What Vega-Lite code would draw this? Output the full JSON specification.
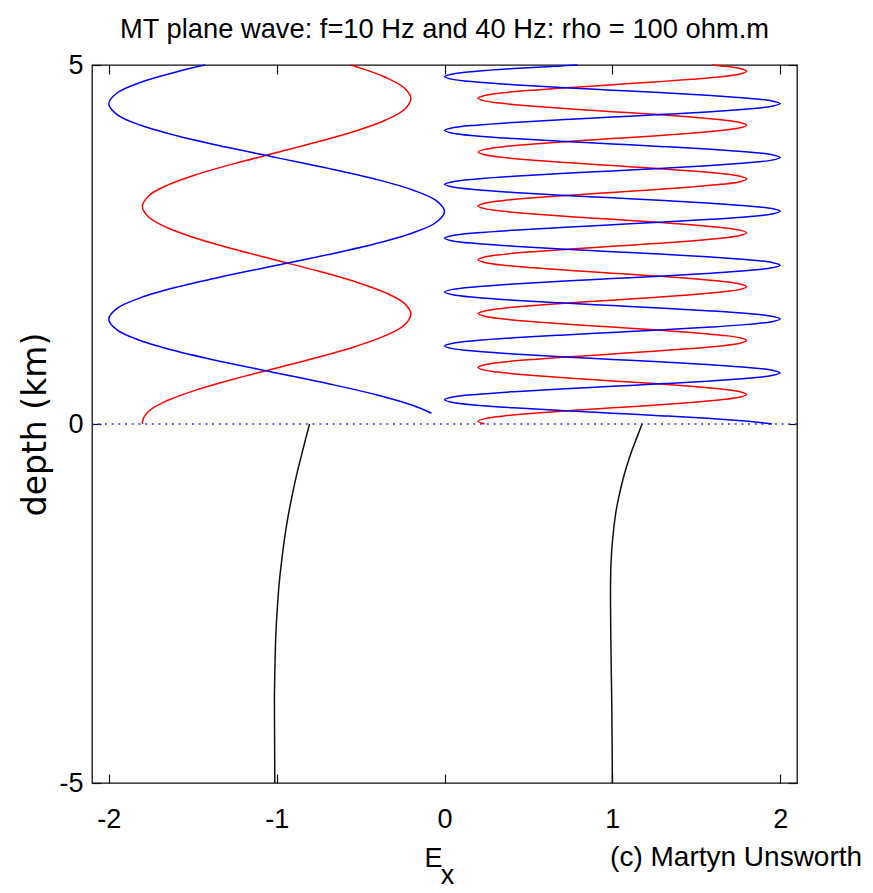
{
"$schema": "https://vega.github.io/schema/vega-lite/v6.json",
"width": 705, "height": 718,
"autosize": "none",
"padding": {"left": 92, "top": 65, "right": 76, "bottom": 110},
"background": "white",
"config": {"view": {"stroke": "#111111", "strokeWidth": 1.3}, "font": "Liberation Sans"},
"title": {"text": "MT plane wave: f=10 Hz and 40 Hz: rho = 100 ohm.m", "font": "Liberation Sans", "fontSize": 27.3, "fontWeight": "normal", "color": "black", "anchor": "middle", "baseline": "alphabetic", "offset": -14},
"datasets": {
"a": [
{"s":"red10","z":0,"e":-1.798},{"s":"red10","z":0.03,"e":-1.8},{"s":"red10","z":0.18,"e":-1.761},{"s":"red10","z":0.33,"e":-1.647},{"s":"red10","z":0.48,"e":-1.47},{"s":"red10","z":0.63,"e":-1.247},{"s":"red10","z":0.78,"e":-1},{"s":"red10","z":0.93,"e":-0.753},{"s":"red10","z":1.08,"e":-0.53},{"s":"red10","z":1.23,"e":-0.353},{"s":"red10","z":1.38,"e":-0.239},{"s":"red10","z":1.53,"e":-0.2},{"s":"red10","z":1.68,"e":-0.239},{"s":"red10","z":1.83,"e":-0.353},{"s":"red10","z":1.98,"e":-0.53},{"s":"red10","z":2.13,"e":-0.753},{"s":"red10","z":2.28,"e":-1},{"s":"red10","z":2.43,"e":-1.247},{"s":"red10","z":2.58,"e":-1.47},{"s":"red10","z":2.73,"e":-1.647},{"s":"red10","z":2.88,"e":-1.761},{"s":"red10","z":3.03,"e":-1.8},{"s":"red10","z":3.18,"e":-1.761},{"s":"red10","z":3.33,"e":-1.647},{"s":"red10","z":3.48,"e":-1.47},{"s":"red10","z":3.63,"e":-1.247},{"s":"red10","z":3.78,"e":-1},{"s":"red10","z":3.93,"e":-0.753},{"s":"red10","z":4.08,"e":-0.53},{"s":"red10","z":4.23,"e":-0.353},{"s":"red10","z":4.38,"e":-0.239},{"s":"red10","z":4.53,"e":-0.2},{"s":"red10","z":4.68,"e":-0.239},{"s":"red10","z":4.83,"e":-0.353},{"s":"red10","z":4.98,"e":-0.53},{"s":"red10","z":5,"e":-0.557},
{"s":"blue10","z":0.15,"e":-0.078},{"s":"blue10","z":0.26,"e":-0.191},{"s":"blue10","z":0.41,"e":-0.412},{"s":"blue10","z":0.56,"e":-0.691},{"s":"blue10","z":0.71,"e":-1},{"s":"blue10","z":0.86,"e":-1.309},{"s":"blue10","z":1.01,"e":-1.588},{"s":"blue10","z":1.16,"e":-1.809},{"s":"blue10","z":1.31,"e":-1.951},{"s":"blue10","z":1.46,"e":-2},{"s":"blue10","z":1.61,"e":-1.951},{"s":"blue10","z":1.76,"e":-1.809},{"s":"blue10","z":1.91,"e":-1.588},{"s":"blue10","z":2.06,"e":-1.309},{"s":"blue10","z":2.21,"e":-1},{"s":"blue10","z":2.36,"e":-0.691},{"s":"blue10","z":2.51,"e":-0.412},{"s":"blue10","z":2.66,"e":-0.191},{"s":"blue10","z":2.81,"e":-0.049},{"s":"blue10","z":2.96,"e":0},{"s":"blue10","z":3.11,"e":-0.049},{"s":"blue10","z":3.26,"e":-0.191},{"s":"blue10","z":3.41,"e":-0.412},{"s":"blue10","z":3.56,"e":-0.691},{"s":"blue10","z":3.71,"e":-1},{"s":"blue10","z":3.86,"e":-1.309},{"s":"blue10","z":4.01,"e":-1.588},{"s":"blue10","z":4.16,"e":-1.809},{"s":"blue10","z":4.31,"e":-1.951},{"s":"blue10","z":4.46,"e":-2},{"s":"blue10","z":4.61,"e":-1.951},{"s":"blue10","z":4.76,"e":-1.809},{"s":"blue10","z":4.91,"e":-1.588},{"s":"blue10","z":5,"e":-1.426},
{"s":"blk10","z":0,"e":-0.804},{"s":"blk10","z":-0.25,"e":-0.832},{"s":"blk10","z":-0.5,"e":-0.859},{"s":"blk10","z":-0.75,"e":-0.885},{"s":"blk10","z":-1,"e":-0.908},{"s":"blk10","z":-1.25,"e":-0.929},{"s":"blk10","z":-1.5,"e":-0.947},{"s":"blk10","z":-1.75,"e":-0.962},{"s":"blk10","z":-2,"e":-0.975},{"s":"blk10","z":-2.25,"e":-0.986},{"s":"blk10","z":-2.5,"e":-0.994},{"s":"blk10","z":-2.75,"e":-1.001},{"s":"blk10","z":-3,"e":-1.006},{"s":"blk10","z":-3.25,"e":-1.009},{"s":"blk10","z":-3.5,"e":-1.011},{"s":"blk10","z":-3.75,"e":-1.013},{"s":"blk10","z":-4,"e":-1.013},{"s":"blk10","z":-4.5,"e":-1.012},{"s":"blk10","z":-5,"e":-1.011},
{"s":"blk40","z":0,"e":1.177},{"s":"blk40","z":-0.2,"e":1.144},{"s":"blk40","z":-0.4,"e":1.112},{"s":"blk40","z":-0.6,"e":1.084},{"s":"blk40","z":-0.8,"e":1.06},{"s":"blk40","z":-1,"e":1.04},{"s":"blk40","z":-1.2,"e":1.023},{"s":"blk40","z":-1.4,"e":1.011},{"s":"blk40","z":-1.6,"e":1.002},{"s":"blk40","z":-1.8,"e":0.995},{"s":"blk40","z":-2,"e":0.991},{"s":"blk40","z":-2.25,"e":0.989},{"s":"blk40","z":-2.5,"e":0.989},{"s":"blk40","z":-3,"e":0.991},{"s":"blk40","z":-3.5,"e":0.994},{"s":"blk40","z":-4,"e":0.997},{"s":"blk40","z":-5,"e":1}
],
"b": [
{"z":0,"r":0.239,"b":1.951},{"z":0.0375,"r":0.2,"b":1.809},{"z":0.075,"r":0.239,"b":1.588},{"z":0.1125,"r":0.353,"b":1.309},{"z":0.15,"r":0.53,"b":1},{"z":0.1875,"r":0.753,"b":0.691},{"z":0.225,"r":1,"b":0.412},{"z":0.2625,"r":1.247,"b":0.191},{"z":0.3,"r":1.47,"b":0.049},{"z":0.3375,"r":1.647,"b":0},{"z":0.375,"r":1.761,"b":0.049},{"z":0.4125,"r":1.8,"b":0.191},{"z":0.45,"r":1.761,"b":0.412},{"z":0.4875,"r":1.647,"b":0.691},{"z":0.525,"r":1.47,"b":1},{"z":0.5625,"r":1.247,"b":1.309},{"z":0.6,"r":1,"b":1.588},{"z":0.6375,"r":0.753,"b":1.809},{"z":0.675,"r":0.53,"b":1.951},{"z":0.7125,"r":0.353,"b":2},
{"z":0.75,"r":0.239,"b":1.951},{"z":0.7875,"r":0.2,"b":1.809},{"z":0.825,"r":0.239,"b":1.588},{"z":0.8625,"r":0.353,"b":1.309},{"z":0.9,"r":0.53,"b":1},{"z":0.9375,"r":0.753,"b":0.691},{"z":0.975,"r":1,"b":0.412},{"z":1.0125,"r":1.247,"b":0.191},{"z":1.05,"r":1.47,"b":0.049},{"z":1.0875,"r":1.647,"b":0},{"z":1.125,"r":1.761,"b":0.049},{"z":1.1625,"r":1.8,"b":0.191},{"z":1.2,"r":1.761,"b":0.412},{"z":1.2375,"r":1.647,"b":0.691},{"z":1.275,"r":1.47,"b":1},{"z":1.3125,"r":1.247,"b":1.309},{"z":1.35,"r":1,"b":1.588},{"z":1.3875,"r":0.753,"b":1.809},{"z":1.425,"r":0.53,"b":1.951},{"z":1.4625,"r":0.353,"b":2},
{"z":1.5,"r":0.239,"b":1.951},{"z":1.5375,"r":0.2,"b":1.809},{"z":1.575,"r":0.239,"b":1.588},{"z":1.6125,"r":0.353,"b":1.309},{"z":1.65,"r":0.53,"b":1},{"z":1.6875,"r":0.753,"b":0.691},{"z":1.725,"r":1,"b":0.412},{"z":1.7625,"r":1.247,"b":0.191},{"z":1.8,"r":1.47,"b":0.049},{"z":1.8375,"r":1.647,"b":0},{"z":1.875,"r":1.761,"b":0.049},{"z":1.9125,"r":1.8,"b":0.191},{"z":1.95,"r":1.761,"b":0.412},{"z":1.9875,"r":1.647,"b":0.691},{"z":2.025,"r":1.47,"b":1},{"z":2.0625,"r":1.247,"b":1.309},{"z":2.1,"r":1,"b":1.588},{"z":2.1375,"r":0.753,"b":1.809},{"z":2.175,"r":0.53,"b":1.951},{"z":2.2125,"r":0.353,"b":2},
{"z":2.25,"r":0.239,"b":1.951},{"z":2.2875,"r":0.2,"b":1.809},{"z":2.325,"r":0.239,"b":1.588},{"z":2.3625,"r":0.353,"b":1.309},{"z":2.4,"r":0.53,"b":1},{"z":2.4375,"r":0.753,"b":0.691},{"z":2.475,"r":1,"b":0.412},{"z":2.5125,"r":1.247,"b":0.191},{"z":2.55,"r":1.47,"b":0.049},{"z":2.5875,"r":1.647,"b":0},{"z":2.625,"r":1.761,"b":0.049},{"z":2.6625,"r":1.8,"b":0.191},{"z":2.7,"r":1.761,"b":0.412},{"z":2.7375,"r":1.647,"b":0.691},{"z":2.775,"r":1.47,"b":1},{"z":2.8125,"r":1.247,"b":1.309},{"z":2.85,"r":1,"b":1.588},{"z":2.8875,"r":0.753,"b":1.809},{"z":2.925,"r":0.53,"b":1.951},{"z":2.9625,"r":0.353,"b":2},
{"z":3,"r":0.239,"b":1.951},{"z":3.0375,"r":0.2,"b":1.809},{"z":3.075,"r":0.239,"b":1.588},{"z":3.1125,"r":0.353,"b":1.309},{"z":3.15,"r":0.53,"b":1},{"z":3.1875,"r":0.753,"b":0.691},{"z":3.225,"r":1,"b":0.412},{"z":3.2625,"r":1.247,"b":0.191},{"z":3.3,"r":1.47,"b":0.049},{"z":3.3375,"r":1.647,"b":0},{"z":3.375,"r":1.761,"b":0.049},{"z":3.4125,"r":1.8,"b":0.191},{"z":3.45,"r":1.761,"b":0.412},{"z":3.4875,"r":1.647,"b":0.691},{"z":3.525,"r":1.47,"b":1},{"z":3.5625,"r":1.247,"b":1.309},{"z":3.6,"r":1,"b":1.588},{"z":3.6375,"r":0.753,"b":1.809},{"z":3.675,"r":0.53,"b":1.951},{"z":3.7125,"r":0.353,"b":2},
{"z":3.75,"r":0.239,"b":1.951},{"z":3.7875,"r":0.2,"b":1.809},{"z":3.825,"r":0.239,"b":1.588},{"z":3.8625,"r":0.353,"b":1.309},{"z":3.9,"r":0.53,"b":1},{"z":3.9375,"r":0.753,"b":0.691},{"z":3.975,"r":1,"b":0.412},{"z":4.0125,"r":1.247,"b":0.191},{"z":4.05,"r":1.47,"b":0.049},{"z":4.0875,"r":1.647,"b":0},{"z":4.125,"r":1.761,"b":0.049},{"z":4.1625,"r":1.8,"b":0.191},{"z":4.2,"r":1.761,"b":0.412},{"z":4.2375,"r":1.647,"b":0.691},{"z":4.275,"r":1.47,"b":1},{"z":4.3125,"r":1.247,"b":1.309},{"z":4.35,"r":1,"b":1.588},{"z":4.3875,"r":0.753,"b":1.809},{"z":4.425,"r":0.53,"b":1.951},{"z":4.4625,"r":0.353,"b":2},
{"z":4.5,"r":0.239,"b":1.951},{"z":4.5375,"r":0.2,"b":1.809},{"z":4.575,"r":0.239,"b":1.588},{"z":4.6125,"r":0.353,"b":1.309},{"z":4.65,"r":0.53,"b":1},{"z":4.6875,"r":0.753,"b":0.691},{"z":4.725,"r":1,"b":0.412},{"z":4.7625,"r":1.247,"b":0.191},{"z":4.8,"r":1.47,"b":0.049},{"z":4.8375,"r":1.647,"b":0},{"z":4.875,"r":1.761,"b":0.049},{"z":4.9125,"r":1.8,"b":0.191},{"z":4.95,"r":1.761,"b":0.412},{"z":4.9875,"r":1.647,"b":0.691},{"z":5,"r":1.594,"b":0.792}
]
},
"layer": [
{"data": {"values": [{}]},
 "mark": {"type": "rule", "color": "#3030ff", "strokeWidth": 1.6, "strokeDash": [2, 4.7]},
 "encoding": {"y": {"datum": 0, "type": "quantitative", "scale": {"domain": [-5, 5], "nice": false, "zero": false}, "axis": null}}},
{"data": {"name": "a"},
 "mark": {"type": "line", "strokeWidth": 1.5, "interpolate": "catmull-rom"},
 "encoding": {
  "x": {"field": "e", "type": "quantitative", "scale": {"domain": [-2.1, 2.1], "nice": false, "zero": false},
    "axis": {"orient": "bottom", "offset": -9, "values": [-2, -1, 0, 1, 2], "labelExpr": "'' + datum.value", "tickSize": 9, "tickColor": "#111111", "tickWidth": 1.2, "domain": false, "grid": false, "labelFont": "Liberation Sans", "labelFontSize": 27, "labelColor": "black", "labelPadding": 23, "title": "E", "titleFont": "Liberation Sans", "titleFontSize": 27, "titleFontWeight": "normal", "titleColor": "black", "titleX": 341, "titleY": 92, "titleBaseline": "alphabetic", "titleAlign": "center"}},
  "y": {"field": "z", "type": "quantitative", "scale": {"domain": [-5, 5], "nice": false, "zero": false},
    "axis": {"orient": "left", "offset": -9, "values": [-5, 0, 5], "labelExpr": "'' + datum.value", "tickSize": 9, "tickColor": "#111111", "tickWidth": 1.2, "domain": false, "grid": false, "labelFont": "Liberation Sans", "labelFontSize": 27, "labelColor": "black", "labelPadding": 9, "title": "depth (km)", "titleFont": "DejaVu Sans", "titleFontSize": 33, "titleFontWeight": "normal", "titleColor": "black", "titleX": -66, "titleY": 359, "titleAngle": 270, "titleBaseline": "middle", "titleAlign": "center"}},
  "color": {"field": "s", "type": "nominal", "scale": {"domain": ["red10", "blue10", "blk10", "blk40", "r", "b"], "range": ["#ff0000", "#0000ff", "#111111", "#111111", "#ff0000", "#0000ff"]}, "legend": null},
  "order": {"field": "z", "type": "quantitative"}
 }},
{"data": {"name": "b"},
 "transform": [{"fold": ["r", "b"], "as": ["s", "e"]}],
 "mark": {"type": "line", "strokeWidth": 1.5, "interpolate": "catmull-rom"},
 "encoding": {
  "x": {"field": "e", "type": "quantitative", "scale": {"domain": [-2.1, 2.1], "nice": false, "zero": false},
    "axis": {"orient": "top", "offset": -9, "values": [-2, -1, 0, 1, 2], "labels": false, "tickSize": 9, "tickColor": "#111111", "tickWidth": 1.2, "domain": false, "grid": false, "title": null}},
  "y": {"field": "z", "type": "quantitative", "scale": {"domain": [-5, 5], "nice": false, "zero": false},
    "axis": {"orient": "right", "offset": -9, "values": [-5, 0, 5], "labels": false, "tickSize": 9, "tickColor": "#111111", "tickWidth": 1.2, "domain": false, "grid": false, "title": null}},
  "color": {"field": "s", "type": "nominal", "scale": {"domain": ["red10", "blue10", "blk10", "blk40", "r", "b"], "range": ["#ff0000", "#0000ff", "#111111", "#111111", "#ff0000", "#0000ff"]}, "legend": null},
  "order": {"field": "z", "type": "quantitative"}
 }},
{"data": {"values": [{"t": "x"}]},
 "mark": {"type": "text", "font": "Liberation Sans", "fontSize": 27, "color": "black", "align": "center", "baseline": "alphabetic", "dy": 101},
 "encoding": {"x": {"datum": 0.018, "type": "quantitative", "axis": null}, "y": {"datum": -5, "type": "quantitative", "axis": null}, "text": {"field": "t"}}},
{"data": {"values": [{"t": "(c) Martyn Unsworth"}]},
 "mark": {"type": "text", "font": "Liberation Sans", "fontSize": 28, "color": "black", "align": "right", "baseline": "alphabetic", "dy": 83},
 "encoding": {"x": {"datum": 2.488, "type": "quantitative", "axis": null}, "y": {"datum": -5, "type": "quantitative", "axis": null}, "text": {"field": "t"}}}
],
"resolve": {"axis": {"x": "independent", "y": "independent"}}
}
